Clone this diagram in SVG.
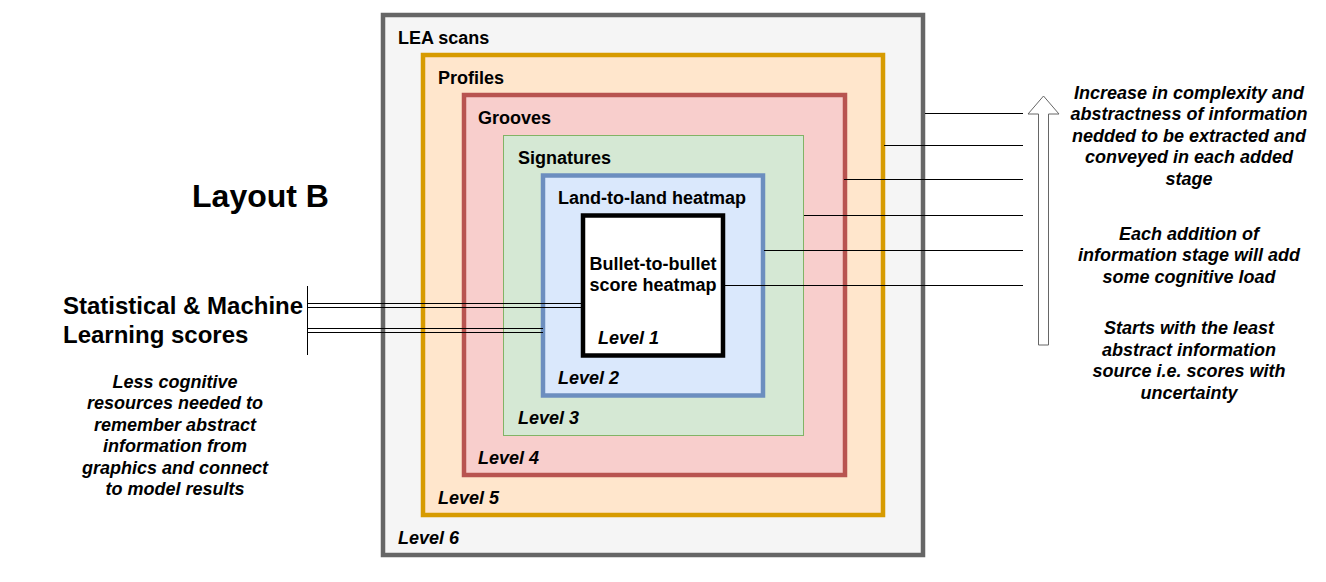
<svg xmlns="http://www.w3.org/2000/svg" width="1326" height="582" viewBox="0 0 1326 582">
<style>
text{font-family:"Liberation Sans",Arial,sans-serif;fill:#000;font-weight:bold}
.lbl{font-size:18px}
.lvl{font-size:18px;font-style:italic}
.note{font-size:18px;font-style:italic;text-anchor:middle}
.ln{stroke:#000;stroke-width:1;fill:none}
</style>
<rect width="1326" height="582" fill="#fff"/>
<g id="level6">
<rect x="383" y="15" width="540" height="540" fill="#f5f5f5" stroke="#666666" stroke-width="4.5"/>
<text class="lbl" x="398" y="44">LEA scans</text>
<text class="lvl" x="398" y="543.5">Level 6</text>
</g>
<g id="level5">
<rect x="423" y="55" width="460" height="460" fill="#ffe6cc" stroke="#d79b00" stroke-width="4.5"/>
<text class="lbl" x="438" y="84">Profiles</text>
<text class="lvl" x="438" y="503.5">Level 5</text>
</g>
<g id="level4">
<rect x="464" y="95" width="381" height="380" fill="#f8cecc" stroke="#b85450" stroke-width="4.5"/>
<text class="lbl" x="478" y="124">Grooves</text>
<text class="lvl" x="478" y="463.5">Level 4</text>
</g>
<g id="level3">
<rect x="503.5" y="135.5" width="300" height="300" fill="#d5e8d4" stroke="#82b366" stroke-width="1"/>
<text class="lbl" x="518" y="164">Signatures</text>
<text class="lvl" x="518" y="423.5">Level 3</text>
</g>
<g id="level2">
<rect x="543" y="175.5" width="220" height="220" fill="#dae8fc" stroke="#6c8ebf" stroke-width="4.5"/>
<text class="lbl" x="558" y="204">Land-to-land heatmap</text>
<text class="lvl" x="558" y="383.5">Level 2</text>
</g>
<g id="level1">
<rect x="583" y="215.5" width="140" height="140" fill="#ffffff" stroke="#000000" stroke-width="4.5"/>
<text class="lbl" x="653" y="270" text-anchor="middle">Bullet-to-bullet</text>
<text class="lbl" x="653" y="291" text-anchor="middle">score heatmap</text>
<text class="lvl" x="598" y="343.5">Level 1</text>
</g>
<g id="connectors">
<line class="ln" x1="925" y1="113.5" x2="1023" y2="113.5"/>
<line class="ln" x1="884" y1="145.5" x2="1023" y2="145.5"/>
<line class="ln" x1="844" y1="179.5" x2="1023" y2="179.5"/>
<line class="ln" x1="804" y1="215.5" x2="1023" y2="215.5"/>
<line class="ln" x1="764" y1="250.5" x2="1023" y2="250.5"/>
<line class="ln" x1="725" y1="285.5" x2="1023" y2="285.5"/>
<line class="ln" x1="307.5" y1="286" x2="307.5" y2="355"/>
<line class="ln" x1="307.5" y1="303.5" x2="582" y2="303.5"/>
<line class="ln" x1="307.5" y1="307.5" x2="582" y2="307.5"/>
<line class="ln" x1="307.5" y1="328.5" x2="543" y2="328.5"/>
<line class="ln" x1="307.5" y1="332.5" x2="543" y2="332.5"/>
</g>
<g id="arrow">
<polygon points="1043.5,96 1059,114 1048.5,114 1048.5,345 1038.5,345 1038.5,114 1028,114" fill="#ffffff" stroke="#666666" stroke-width="1"/>
</g>
<g id="title">
<text x="260.5" y="207" font-size="32" text-anchor="middle">Layout B</text>
</g>
<g id="scores">
<text x="63" y="314" font-size="24">Statistical &amp; Machine</text>
<text x="63" y="343" font-size="24">Learning scores</text>
</g>
<g id="left-note">
<text class="note" x="175" y="387.5">Less cognitive</text>
<text class="note" x="175" y="409">resources needed to</text>
<text class="note" x="175" y="430.6">remember abstract</text>
<text class="note" x="175" y="452.2">information from</text>
<text class="note" x="175" y="473.8">graphics and connect</text>
<text class="note" x="175" y="495.4">to model results</text>
</g>
<g id="right-note-1">
<text class="note" x="1189" y="98.5">Increase in complexity and</text>
<text class="note" x="1189" y="120">abstractness of information</text>
<text class="note" x="1189" y="141.6">nedded to be extracted and</text>
<text class="note" x="1189" y="163.2">conveyed in each added</text>
<text class="note" x="1189" y="184.8">stage</text>
</g>
<g id="right-note-2">
<text class="note" x="1189" y="239.5">Each addition of</text>
<text class="note" x="1189" y="261">information stage will add</text>
<text class="note" x="1189" y="282.6">some cognitive load</text>
</g>
<g id="right-note-3">
<text class="note" x="1189" y="334">Starts with the least</text>
<text class="note" x="1189" y="355.6">abstract information</text>
<text class="note" x="1189" y="377.2">source i.e. scores with</text>
<text class="note" x="1189" y="398.8">uncertainty</text>
</g>
</svg>
